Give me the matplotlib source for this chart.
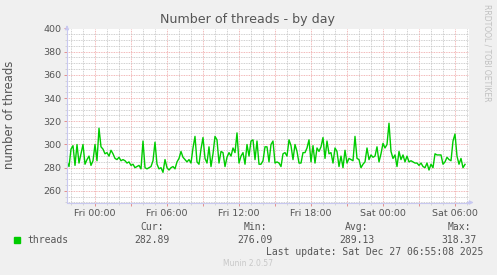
import numpy as np
import matplotlib.pyplot as plt
from matplotlib.ticker import MultipleLocator

# samples every 10 minutes, first one at Thu 21:40 (hours relative to Fri 00:00)
start_hour = -140 / 60
step_hour = 10 / 60

threads = [
    285, 281, 296, 299, 282, 300, 284, 292, 300, 283,
    287, 290, 282, 286, 300, 286, 314, 298, 296, 292,
    293, 290, 295, 292, 288, 287, 289, 286, 287, 286,
    284, 285, 282, 283, 280, 281, 282, 279, 303, 280,
    279, 280, 281, 286, 302, 283, 279, 280, 276, 287,
    280, 278, 280, 281, 279, 285, 288, 294, 289, 287,
    285, 287, 284, 297, 307, 285, 283, 296, 306, 288,
    284, 298, 281, 292, 307, 304, 284, 294, 293, 281,
    289, 293, 290, 297, 293, 310, 284, 290, 293, 283,
    300, 290, 303, 304, 287, 303, 283, 283, 286, 298,
    298, 285, 300, 303, 284, 285, 284, 281, 292, 293,
    290, 304, 299, 287, 300, 294, 284, 284, 293, 293,
    297, 304, 285, 299, 284, 297, 294, 298, 306, 288,
    303, 292, 293, 284, 297, 294, 281, 290, 280, 295,
    284, 288, 287, 286, 307, 288, 287, 280, 283, 285,
    297, 287, 291, 289, 290, 298, 285, 292, 301, 297,
    300, 318.37, 294, 288, 291, 281, 294, 287, 291, 285,
    290, 285, 286, 285, 284, 284, 282, 284, 281, 280,
    284, 278, 283, 280, 292, 291, 291, 291, 283, 285,
    289, 287, 286, 303, 309, 290, 283, 288, 280, 282.89,
]

x_ticks = [0, 6, 12, 18, 24, 30]
x_labels = ["Fri 00:00", "Fri 06:00", "Fri 12:00", "Fri 18:00", "Sat 00:00", "Sat 06:00"]
y_ticks = [260, 280, 300, 320, 340, 360, 380, 400]

stats_names = ["Cur:", "Min:", "Avg:", "Max:"]
stats_values = ["282.89", "276.09", "289.13", "318.37"]

hours = start_hour + step_hour * np.arange(len(threads))

W, H = 497, 275
fig = plt.figure(figsize=(W / 100, H / 100), dpi=100)
fig.patch.set_facecolor("#f0f0f0")

ax = fig.add_axes([67 / W, 1 - 202.5 / H, (468.5 - 67) / W, (202.5 - 28.5) / H])
ax.set_facecolor("white")

ax.set_xlim(-140 / 60, (468.5 - 95) * 5 / 60)
ax.set_ylim(250, 400)

ax.xaxis.set_major_locator(MultipleLocator(3))
ax.xaxis.set_minor_locator(MultipleLocator(1))
ax.yaxis.set_major_locator(MultipleLocator(20))
ax.yaxis.set_minor_locator(MultipleLocator(5))

ax.grid(which="minor", color="#c0c0c0", linestyle=(0, (1, 1)), linewidth=0.6)
ax.grid(which="major", color="#eea0a0", linestyle=(0, (1, 1)), linewidth=0.6)
ax.set_axisbelow(True)

ax.set_xticks(np.arange(0, 31, 3))
ax.set_xticklabels([x_labels[x_ticks.index(t)] if t in x_ticks else "" for t in range(0, 31, 3)])
ax.set_yticks(y_ticks)
ax.set_yticklabels([str(v) for v in y_ticks])
ax.tick_params(axis="x", which="major", colors="#e08080", length=2, width=0.6,
               labelcolor="#555555", labelsize=6.8, pad=3)
ax.tick_params(axis="y", which="major", colors="#e08080", length=2, width=0.6,
               labelcolor="#555555", labelsize=6.8, pad=2)
ax.tick_params(which="minor", colors="#c8c8c8", length=1.5, width=0.5)

for side in ["top", "right"]:
    ax.spines[side].set_visible(False)
for side in ["left", "bottom"]:
    ax.spines[side].set_color("#c8c8f0")
    ax.spines[side].set_linewidth(0.8)

# axis arrows
ax.annotate("", xy=(0, 1.035), xytext=(0, 0.99), xycoords="axes fraction",
            arrowprops=dict(arrowstyle="-|>", color="#c8c8f0", lw=0.8, mutation_scale=6),
            annotation_clip=False)
ax.annotate("", xy=(1.02, 0), xytext=(0.99, 0), xycoords="axes fraction",
            arrowprops=dict(arrowstyle="-|>", color="#c8c8f0", lw=0.8, mutation_scale=6),
            annotation_clip=False)

ax.plot(hours, threads, color="#00cc00", linewidth=1.0)

fig.text(248 / W, 1 - 19 / H, "Number of threads - by day", ha="center", va="center",
         fontsize=9.1, color="#555555")
fig.text(10 / W, 1 - 115 / H, "number of threads", rotation=90, ha="center", va="center",
         fontsize=8.4, color="#555555")
fig.text(487 / W, 1 - 53 / H, "RRDTOOL / TOBI OETIKER", rotation=270, ha="center", va="center",
         fontsize=5.5, color="#c0c0c0")

# legend block
mono = "DejaVu Sans Mono"
fig.patches.append(plt.Rectangle((14 / W, 1 - 243 / H), 6 / W, 6 / H,
                                 transform=fig.transFigure, color="#00cc00"))
fig.text(27 / W, 1 - 240 / H, "threads", ha="left", va="center", family=mono,
         fontsize=7, color="#555555")
for cx, name, val in zip([152, 255, 357, 459], stats_names, stats_values):
    fig.text(cx / W, 1 - 227.5 / H, name, ha="center", va="center", family=mono,
             fontsize=7, color="#555555")
    fig.text(cx / W, 1 - 240 / H, val, ha="center", va="center", family=mono,
             fontsize=7, color="#555555")
fig.text(483 / W, 1 - 252 / H, "Last update: Sat Dec 27 06:55:08 2025", ha="right",
         va="center", family=mono, fontsize=7, color="#555555")
fig.text(248 / W, 1 - 264 / H, "Munin 2.0.57", ha="center", va="center",
         fontsize=5.5, color="#c8c8c8")

fig.savefig("out.png", dpi=100, facecolor=fig.get_facecolor())
